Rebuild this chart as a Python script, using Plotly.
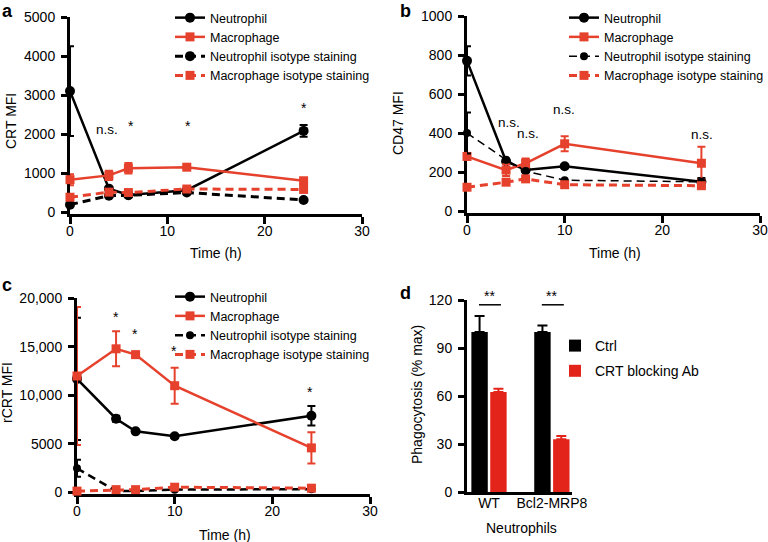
import plotly.graph_objects as go

W, H = 768, 542


def px(x):
    return x / W


def py(y):
    return 1 - y / H


RED = '#E5412D'
BAR_RED = '#E3241B'
FONT = 'Arial, Liberation Sans, Helvetica, sans-serif'

# ---------------- data ----------------
# Panel a: CRT MFI
time_a = [0, 4, 6, 12, 24]
neu_a = [3100, 600, 440, 560, 2080]
neu_a_err = [1150, 0, 0, 0, 150]
mac_a = [830, 940, 1120, 1150, 800]
mac_a_err = [140, 120, 135, 50, 80]
neu_iso_a = [190, 420, 430, 500, 310]
mac_iso_a = [380, 510, 500, 590, 580]
sig_a_x = [3.8, 6.3, 12.1, 24.05]
sig_a_y = [2120, 2320, 2320, 2770]
sig_a_txt = ['n.s.', '*', '*', '*']

# Panel b: CD47 MFI
time_b = [0, 4, 6, 10, 24]
neu_b = [770, 255, 210, 230, 150]
neu_b_err = [75, 10, 10, 8, 20]
mac_b = [280, 210, 245, 345, 245]
mac_b_err = [17, 30, 25, 38, 85]
neu_iso_b = [400, 263, 205, 158, 150]
neu_iso_b_err = [105, 0, 0, 0, 0]
mac_iso_b = [122, 148, 165, 135, 130]
sig_b_x = [4.3, 6.2, 9.96, 24.1]
sig_b_y = [454, 396, 519, 391]
sig_b_txt = ['n.s.', 'n.s.', 'n.s.', 'n.s.']

# Panel c: rCRT MFI
time_c = [0, 4, 6, 10, 24]
neu_c = [11700, 7600, 6300, 5800, 7900]
neu_c_err = [6300, 300, 150, 150, 1000]
mac_c = [12000, 14800, 14200, 11000, 4600]
mac_c_err = [7100, 1800, 250, 1850, 1600]
neu_iso_c = [2500, 150, 150, 300, 350]
neu_iso_c_err = [870, 0, 0, 0, 0]
mac_iso_c = [150, 300, 300, 550, 450]
sig_c_x = [3.96, 5.9, 9.9, 23.85]
sig_c_y = [18456, 16740, 15026, 10737]
sig_c_txt = ['*', '*', '*', '*']
c_ticks = [0, 5000, 10000, 15000, 20000]
c_ticklabels = ['0', '5000', '10,000', '15,000', '20,000']

# Panel d: phagocytosis
groups_d = ['WT', 'Bcl2-MRP8']
ctrl_d = [100, 100]
ctrl_d_err = [10, 4]
block_d = [62.5, 33]
block_d_err = [2, 2]

series_names = ['Neutrophil', 'Macrophage', 'Neutrophil isotype staining',
                'Macrophage isotype staining']

fig = go.Figure()


def add_panel(xa, ya, leg, t, neu, neu_err, mac, mac_err, niso, niso_err, miso,
              niso_width=3, niso_size=10):
    fig.add_trace(go.Scatter(
        x=t, y=neu, name=series_names[0], mode='lines+markers', xaxis=xa, yaxis=ya,
        legend=leg, legendgroup=leg + '1', cliponaxis=False,
        line=dict(color='black', width=2.5),
        marker=dict(symbol='circle', size=10, color='black'),
        error_y=dict(type='data', array=neu_err, color='black', thickness=2, width=4)))
    fig.add_trace(go.Scatter(
        x=t, y=mac, name=series_names[1], mode='lines+markers', xaxis=xa, yaxis=ya,
        legend=leg, legendgroup=leg + '2', cliponaxis=False,
        line=dict(color=RED, width=2.5),
        marker=dict(symbol='square', size=9, color=RED),
        error_y=dict(type='data', array=mac_err, color=RED, thickness=2, width=4)))
    kw = {}
    if niso_err is not None:
        kw['error_y'] = dict(type='data', array=niso_err, color='black', thickness=2, width=4)
    fig.add_trace(go.Scatter(
        x=t, y=niso, name=series_names[2], mode='lines+markers', xaxis=xa, yaxis=ya,
        legend=leg, legendgroup=leg + '3', cliponaxis=False,
        line=dict(color='black', width=niso_width, dash='8px,5px'),
        marker=dict(symbol='circle', size=niso_size, color='black'), **kw))
    fig.add_trace(go.Scatter(
        x=t, y=miso, name=series_names[3], mode='lines+markers', xaxis=xa, yaxis=ya,
        legend=leg, legendgroup=leg + '4', cliponaxis=False,
        line=dict(color=RED, width=3, dash='8px,5px'),
        marker=dict(symbol='square', size=9, color=RED)))


add_panel('x', 'y', 'legend', time_a, neu_a, neu_a_err, mac_a, mac_a_err,
          neu_iso_a, None, mac_iso_a)
add_panel('x2', 'y2', 'legend2', time_b, neu_b, neu_b_err, mac_b, mac_b_err,
          neu_iso_b, neu_iso_b_err, mac_iso_b, niso_width=1.5, niso_size=8)
add_panel('x3', 'y3', 'legend3', time_c, neu_c, neu_c_err, mac_c, mac_c_err,
          neu_iso_c, neu_iso_c_err, mac_iso_c, niso_width=2.5, niso_size=8)

fig.add_trace(go.Bar(
    x=groups_d, y=ctrl_d, name='Ctrl', xaxis='x4', yaxis='y4', legend='legend4',
    legendgroup='d1', marker=dict(color='black', line=dict(width=0)),
    error_y=dict(type='data', array=ctrl_d_err, arrayminus=[0, 0], symmetric=False,
                 color='black', thickness=2, width=5)))
fig.add_trace(go.Bar(
    x=groups_d, y=block_d, name='CRT blocking Ab', xaxis='x4', yaxis='y4',
    legend='legend4', legendgroup='d2', marker=dict(color=BAR_RED, line=dict(width=0)),
    error_y=dict(type='data', array=block_d_err, arrayminus=[0, 0], symmetric=False,
                 color=BAR_RED, thickness=2, width=5)))

axis_common = dict(showline=True, linewidth=3, linecolor='black', ticks='outside',
                   ticklen=6, tickwidth=2.5, tickcolor='black', showgrid=False,
                   zeroline=False, tickfont=dict(family=FONT, size=14, color='black'),
                   layer='below traces', fixedrange=True, automargin=False)
xax = dict(axis_common, ticklen=7, ticklabelstandoff=-5)
yax = dict(axis_common, ticklabelstandoff=3)

layout = dict(
    template='none',
    width=W, height=H, margin=dict(l=0, r=0, t=0, b=0, pad=0, autoexpand=False),
    paper_bgcolor='white', plot_bgcolor='white',
    font=dict(family=FONT, color='black'),
    barmode='group', bargap=0.4, bargroupgap=0.13,
    # panel a
    xaxis=dict(domain=[px(70), px(362)], range=[0, 30], tickvals=[0, 10, 20, 30],
               anchor='y', **xax),
    yaxis=dict(domain=[py(214), py(17)], range=[-50, 5000],
               tickvals=[0, 1000, 2000, 3000, 4000, 5000], anchor='x', **yax),
    # panel b
    xaxis2=dict(domain=[px(467), px(760)], range=[0, 30], tickvals=[0, 10, 20, 30],
                anchor='y2', **xax),
    yaxis2=dict(domain=[py(213), py(16)], range=[-10, 1000],
                tickvals=[0, 200, 400, 600, 800, 1000], anchor='x2', **yax),
    # panel c
    xaxis3=dict(domain=[px(77), px(370)], range=[0, 30], tickvals=[0, 10, 20, 30],
                anchor='y3', **xax),
    yaxis3=dict(domain=[py(494), py(298.3)], range=[-150, 20000],
                tickvals=c_ticks, ticktext=c_ticklabels, anchor='x3', **yax),
    # panel d
    xaxis4=dict(domain=[px(467), px(572)], range=[-0.35, 1.32], type='category',
                anchor='y4', **dict(axis_common, ticks='', ticklabelstandoff=-4)),
    yaxis4=dict(domain=[py(492), py(300)], range=[0, 120],
                tickvals=[0, 30, 60, 90, 120], anchor='x4', **yax),
    showlegend=True,
)

leg_common = dict(xanchor='left', yanchor='top', bgcolor='rgba(0,0,0,0)',
                  xref='container', yref='container',
                  traceorder='grouped', tracegroupgap=0,
                  font=dict(family=FONT, size=12.5, color='black'))
layout['legend'] = dict(x=px(170), y=py(3), **leg_common)
layout['legend2'] = dict(x=px(564), y=py(3), **leg_common)
layout['legend3'] = dict(x=px(170), y=py(282), **leg_common)
layout['legend4'] = dict(x=px(555), y=py(330), xanchor='left', yanchor='top',
                         xref='container', yref='container',
                         bgcolor='rgba(0,0,0,0)', traceorder='grouped', tracegroupgap=4,
                         font=dict(family=FONT, size=14, color='black'))
fig.update_layout(**layout)

ann = []


def sig(xref, yref, xs, ys, txts):
    for x, y, t in zip(xs, ys, txts):
        star = t.startswith('*')
        ann.append(dict(x=x, y=y, xref=xref, yref=yref, text=t, showarrow=False,
                        xanchor='center', yanchor='middle',
                        font=dict(family=FONT, size=13.5 if not star else 14, color='black'),
                        yshift=-4 if star else 0))


sig('x', 'y', sig_a_x, sig_a_y, sig_a_txt)
sig('x2', 'y2', sig_b_x, sig_b_y, sig_b_txt)
sig('x3', 'y3', sig_c_x, sig_c_y, sig_c_txt)

# panel d significance brackets
for g in groups_d:
    ann.append(dict(x=g, y=py(292), xref='x4', yref='paper', text='**', showarrow=False,
                    xanchor='center', yanchor='middle', yshift=-4,
                    font=dict(family=FONT, size=14, color='black')))
shapes = []
for i in range(len(groups_d)):
    shapes.append(dict(type='line', xref='x4', yref='y4', x0=i - 0.16, x1=i + 0.19,
                       y0=117, y1=117, line=dict(color='black', width=1.5)))

# panel letters
for letter, x, y in [('a', 7, 11), ('b', 405, 11), ('c', 7, 285), ('d', 405, 293)]:
    ann.append(dict(x=px(x), y=py(y), xref='paper', yref='paper', text='<b>%s</b>' % letter,
                    showarrow=False, xanchor='center', yanchor='middle',
                    font=dict(family=FONT, size=18, color='black')))

# axis titles
for txt, x, y in [('Time (h)', 216, 253), ('Time (h)', 615, 253), ('Time (h)', 225, 535),
                  ('Neutrophils', 521, 528)]:
    ann.append(dict(x=px(x), y=py(y), xref='paper', yref='paper', text=txt, showarrow=False,
                    xanchor='center', yanchor='middle',
                    font=dict(family=FONT, size=14, color='black')))
for txt, x, y in [('CRT MFI', 11, 121), ('CD47 MFI', 398, 123), ('rCRT MFI', 7, 393),
                  ('Phagocytosis (% max)', 417, 395)]:
    ann.append(dict(x=px(x), y=py(y), xref='paper', yref='paper', text=txt, showarrow=False,
                    xanchor='center', yanchor='middle', textangle=-90,
                    font=dict(family=FONT, size=14, color='black')))

fig.update_layout(annotations=ann, shapes=shapes)
fig.write_html('out.html', config={'displayModeBar': False},
               post_script="document.body.style.margin='0px';"
                           "document.body.style.padding='0px';"
                           "document.body.style.overflow='hidden';")
